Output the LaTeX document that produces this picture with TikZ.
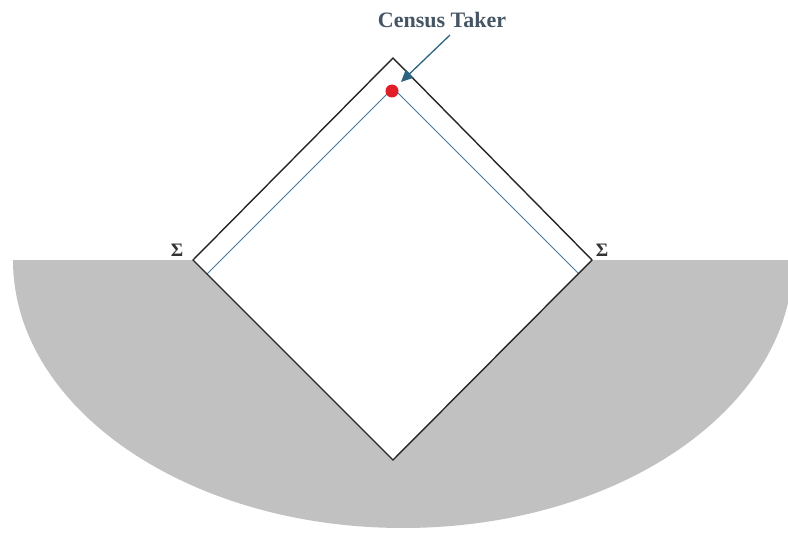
\documentclass[tikz,border=0pt]{standalone}
\usepackage{fontspec}
\setmainfont{Liberation Serif}
\usetikzlibrary{arrows.meta}
\definecolor{fieldgray}{RGB}{193,193,193}
\definecolor{innerc}{RGB}{70,120,160}
\definecolor{dotred}{RGB}{225,30,40}
\definecolor{labelc}{RGB}{70,85,100}
\definecolor{arrowc}{RGB}{45,100,130}
\begin{document}
\begin{tikzpicture}[x=1pt,y=-1pt,
  edge/.style={line width=1.4pt, black!85, line join=miter},
  innerline/.style={line width=1pt, innerc},
  sigmalabel/.style={font=\bfseries\fontsize{19}{19}\selectfont, inner sep=0pt, text=black!80},
  censuslabel/.style={font=\bfseries\fontsize{22}{22}\selectfont, inner sep=0pt, text=labelc},
  pointer/.style={-{Triangle[length=12pt,width=11pt]}, arrowc, line width=1.3pt}]
\useasboundingbox (0,0) rectangle (788,535);
\begin{scope}
\clip (0,0) rectangle (788,535);
\fill[fieldgray] (13,260) arc[start angle=180,end angle=0,x radius=390,y radius=268] -- cycle;
\end{scope}
\coordinate (T) at (393,58);
\coordinate (L) at (193,260);
\coordinate (R) at (592,260);
\coordinate (B) at (393,460);
\coordinate (A) at (393,88);
\coordinate (IL) at (207,274);
\coordinate (IR) at (578.5,273.5);
\fill[white] (T)--(L)--(B)--(R)--cycle;
\draw[innerline] (IL)--(A)--(IR);
\draw[edge] (T)--(L)--(B)--(R)--cycle;
\node[circle, fill=dotred, minimum size=13pt, inner sep=0pt] (ct) at (392,91) {};
\node[censuslabel] (lab) at (442,20) {Census Taker};
\coordinate (start) at (450,35);
\coordinate (tip) at (401,82);
\draw[pointer] (start) -- (tip);
\node[sigmalabel] (sl) at (177,250) {Σ};
\node[sigmalabel] (sr) at (602,250) {Σ};
\end{tikzpicture}
\end{document}
